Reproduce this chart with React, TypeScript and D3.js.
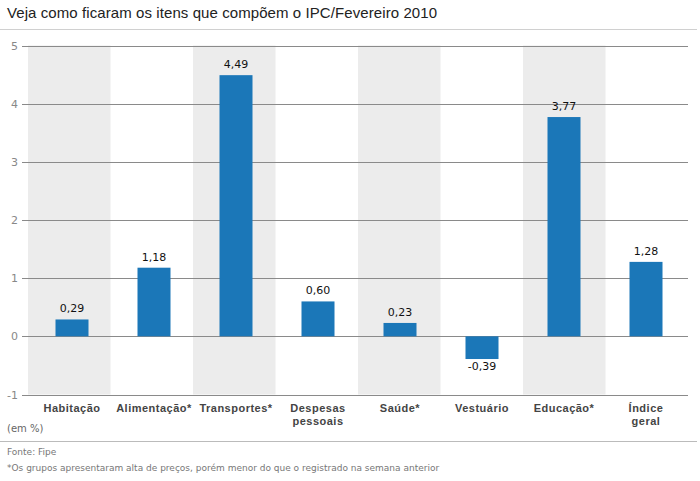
import React from "react";
import * as d3 from "d3";

const categories = [
  ["Habitação"],
  ["Alimentação*"],
  ["Transportes*"],
  ["Despesas", "pessoais"],
  ["Saúde*"],
  ["Vestuário"],
  ["Educação*"],
  ["Índice", "geral"],
];
const values = [0.29, 1.18, 4.49, 0.6, 0.23, -0.39, 3.77, 1.28];
const yTicks = [-1, 0, 1, 2, 3, 4, 5];

const title = "Veja como ficaram os itens que compõem o IPC/Fevereiro 2010";
const unitNote = "(em %)";
const source = "Fonte: Fipe";
const footnote = "*Os grupos apresentaram alta de preços, porém menor do que o registrado na semana anterior";

const W = 700;
const H = 481;
const font = "Tahoma, 'DejaVu Sans', Verdana, sans-serif";
const labelFont = "'Liberation Sans', Arial, sans-serif";

export default function App() {
  const idx = d3.range(categories.length).map(String);
  const band = d3.scaleBand<string>().domain(idx).range([28, 688]);
  const barX = d3.scaleBand<string>().domain(idx).range([31, 687]);
  const y = d3.scaleLinear().domain([-1, 5]).range([394.5, 45.5]);
  const fmt = (v: number) => v.toFixed(2).replace(".", ",");
  const barW = 33;

  return (
    <svg width={W} height={H} style={{ position: "absolute", left: 0, top: 0, background: "#fff" }}>
      <text x={7} y={18} fontFamily={labelFont} fontSize={15} fill="#222" textLength={430}>
        {title}
      </text>
      <line x1={0} x2={697} y1={29.5} y2={29.5} stroke="#d0d0d0" />

      {idx.map((k, i) =>
        i % 2 === 0 ? (
          <rect key={k} x={band(k)!} y={y(5)} width={band.bandwidth()} height={y(-1) - y(5)} fill="#ececec" />
        ) : null
      )}

      {yTicks.map((t) => (
        <g key={t}>
          <line x1={22} x2={688} y1={Math.round(y(t)) + 0.5} y2={Math.round(y(t)) + 0.5} stroke="#8a8a8a" />
          <text x={18} y={y(t) + 4} textAnchor="end" fontFamily={font} fontSize={11} fill="#888">
            {t}
          </text>
        </g>
      ))}

      {values.map((v, i) => {
        const cx = barX(String(i))! + barX.bandwidth() / 2;
        const top = y(Math.max(0, v));
        const bot = y(Math.min(0, v));
        return (
          <g key={i}>
            <rect x={cx - barW / 2} y={top} width={barW} height={bot - top} fill="#1b77b8" />
            <text
              x={cx}
              y={v >= 0 ? top - 7 : bot + 11}
              textAnchor="middle"
              fontFamily={font}
              fontSize={11}
              fill="#111"
            >
              {fmt(v)}
            </text>
          </g>
        );
      })}

      {categories.map((lines, i) => {
        const cx = barX(String(i))! + barX.bandwidth() / 2;
        return (
          <text key={i} textAnchor="middle" fontFamily={labelFont} fontSize={11} fontWeight="bold" fill="#444" letterSpacing={0.5}>
            {lines.map((l, j) => (
              <tspan key={j} x={cx} y={412 + j * 13}>
                {l}
              </tspan>
            ))}
          </text>
        );
      })}

      <text x={7} y={432} fontFamily={font} fontSize={10} fill="#666">
        {unitNote}
      </text>
      <line x1={0} x2={697} y1={441.5} y2={441.5} stroke="#bbb" />
      <text x={7} y={455} fontFamily={font} fontSize={9} fill="#777">
        {source}
      </text>
      <text x={7} y={471} fontFamily={font} fontSize={9} fill="#777">
        {footnote}
      </text>
    </svg>
  );
}
